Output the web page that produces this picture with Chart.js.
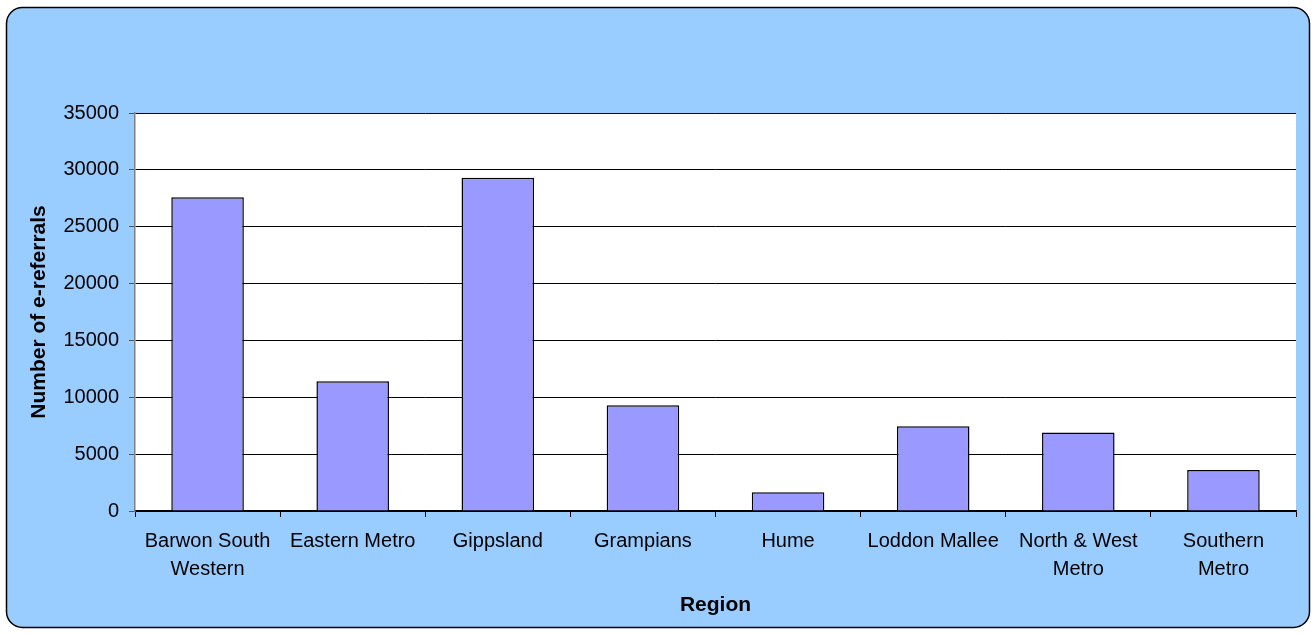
<!DOCTYPE html>
<html>
<head>
<meta charset="utf-8">
<script src="https://cdn.jsdelivr.net/npm/chart.js@4"></script>
<style>
  html, body { margin: 0; padding: 0; background: #fff; }
  #wrap { width: 1313px; height: 634px; }
</style>
</head>
<body>
<div id="wrap"><canvas id="referralChart" width="1313" height="634"></canvas></div>
<script>
var regions = [["Barwon South", "Western"], "Eastern Metro", "Gippsland", "Grampians", "Hume", "Loddon Mallee", ["North & West", "Metro"], ["Southern", "Metro"]];
var referrals = [27600, 11400, 29300, 9300, 1650, 7450, 6900, 3600];
var yTicks = [0, 5000, 10000, 15000, 20000, 25000, 30000, 35000];

Chart.defaults.font.family = "'Liberation Sans', Arial, sans-serif";
Chart.defaults.color = '#000';

// blue rounded panel and white plot area
var panelBackground = {
    id: 'panelBackground',
    beforeDraw: function(chart) {
        var ctx = chart.ctx;
        var a = chart.chartArea;
        ctx.save();
        ctx.beginPath();
        ctx.roundRect(6.5, 7.5, 1303, 620, 16);
        ctx.fillStyle = '#99CCFF';
        ctx.fill();
        ctx.lineWidth = 1.5;
        ctx.strokeStyle = '#000';
        ctx.stroke();
        ctx.fillStyle = '#fff';
        ctx.fillRect(a.left, a.top, a.right - a.left, a.bottom - a.top);
        ctx.restore();
    }
};

var referralChart = document.getElementById("referralChart");
var myChart = new Chart(referralChart, {
    type: 'bar',
    data: {
        labels: regions,
        datasets: [{
            label: 'Number of e-referrals',
            data: referrals,
            backgroundColor: '#9999FF',
            borderColor: '#000',
            borderWidth: 1.5,
            barPercentage: 0.5,
            categoryPercentage: 1.0
        }]
    },
    options: {
        responsive: false,
        animation: false,
        layout: {
            padding: { left: 0, top: 113, right: 17, bottom: 0 }
        },
        plugins: {
            legend: { display: false },
            tooltip: { enabled: false }
        },
        scales: {
            x: {
                grid: {
                    offset: true,
                    drawOnChartArea: false,
                    tickLength: 6,
                    tickColor: '#000'
                },
                border: { color: '#000', width: 1.5 },
                ticks: {
                    font: { size: 20, lineHeight: 1.4 },
                    padding: 10,
                    maxRotation: 0,
                    autoSkip: false
                },
                title: {
                    display: true,
                    text: 'Region',
                    font: { size: 21, weight: 'bold' },
                    padding: { top: 0, bottom: 16 }
                },
                afterFit: function(scale) { scale.height = 123; }
            },
            y: {
                min: 0,
                max: 35000,
                afterBuildTicks: function(scale) {
                    scale.ticks = yTicks.map(function(v) { return { value: v }; });
                },
                grid: {
                    color: '#000',
                    lineWidth: 1,
                    tickLength: 6,
                    tickColor: '#555'
                },
                border: { color: '#808080', width: 1.5 },
                ticks: {
                    font: { size: 20 },
                    padding: 10,
                    callback: function(value) { return String(value); }
                },
                title: {
                    display: true,
                    text: 'Number of e-referrals',
                    font: { size: 21, weight: 'bold' },
                    padding: { top: 27, bottom: 0 }
                },
                afterFit: function(scale) { scale.width = 135; }
            }
        }
    },
    plugins: [panelBackground]
});
</script>
</body>
</html>
